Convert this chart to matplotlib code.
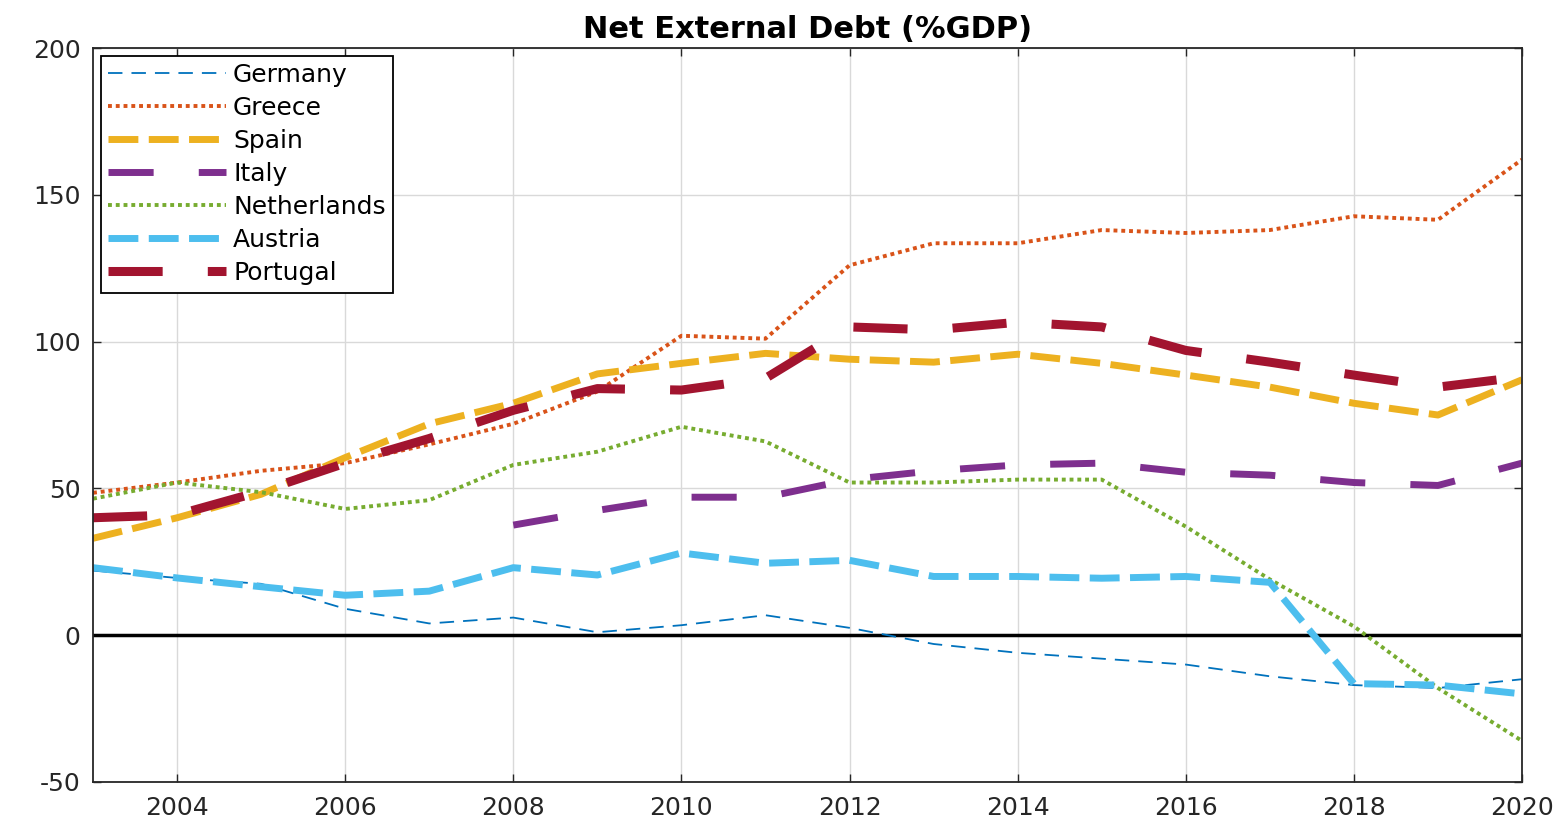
import matplotlib
matplotlib.use("Agg")
import matplotlib.pyplot as plt

years = list(range(2003, 2021))

germany = [22, 19.5, 17.5, 9, 4, 6, 1, 3.4, 6.8, 2.5, -3, -6, -8, -10, -14, -17, -18, -15]
greece = [48.5, 52, 56, 58.6, 65, 72, 83, 102, 101, 126, 133.5, 133.5, 138, 137, 138, 142.7, 141.5, 162]
spain = [33, 40, 48, 60.5, 72, 79, 89, 92.6, 96, 94, 93, 95.7, 92.6, 88.6, 84.5, 79, 75, 87]
italy = [None, None, None, None, None, 37.5, 42.5, 47, 47, 53, 56, 58, 58.6, 55.5, 54.5, 52, 51, 58.6]
netherlands = [46.5, 52, 48.7, 43, 46, 58, 62.5, 71, 66, 52, 52, 53, 53, 37, 19, 3, -18, -36]
austria = [23, 19.5, 16.5, 13.6, 15, 23, 20.5, 28, 24.5, 25.5, 20, 20, 19.4, 20, 18, -16.5, -17, -20]
portugal = [40, 41, 49, 58.6, 67, 76.6, 84, 83.5, 87.5, 105, 104, 106.6, 105, 97, 93, 88.6, 84.5, 88]

series_names = ["Germany", "Greece", "Spain", "Italy", "Netherlands", "Austria", "Portugal"]
series_values = [germany, greece, spain, italy, netherlands, austria, portugal]

x_ticks = [2004, 2006, 2008, 2010, 2012, 2014, 2016, 2018, 2020]
y_ticks = [-50, 0, 50, 100, 150, 200]
title = "Net External Debt (%GDP)"

plt.rcParams['font.family'] = ['DejaVu Sans']
plt.rcParams['axes.unicode_minus'] = False

styles = {
    "Germany":     dict(color="#0072BD", lw=1.3, dashes=(8, 5)),
    "Greece":      dict(color="#D95319", lw=2.8, dashes=(1, 1)),
    "Spain":       dict(color="#EDB120", lw=5.0, dashes=(4.3, 1.5)),
    "Italy":       dict(color="#7E2F8E", lw=5.0, dashes=(6.5, 6.5)),
    "Netherlands": dict(color="#77AC30", lw=2.8, dashes=(1, 1)),
    "Austria":     dict(color="#4DBEEE", lw=5.0, dashes=(4.3, 1.5)),
    "Portugal":    dict(color="#A2142F", lw=6.5, dashes=(6, 5)),
}

fig = plt.figure(figsize=(15.66, 8.24), dpi=100)
ax = fig.add_axes([0.0594, 0.051, 0.9125, 0.8907])

ax.axhline(0, color="black", lw=2.5, zorder=1.5)

for name, vals in zip(series_names, series_values):
    st = styles[name]
    yv = [float('nan') if v is None else v for v in vals]
    ax.plot(years, yv, color=st["color"], lw=st["lw"], dashes=st["dashes"],
            label=name, zorder=2)

ax.set_xlim(2003, 2020)
ax.set_ylim(-50, 200)
ax.set_xticks(x_ticks)
ax.set_yticks(y_ticks)
ax.grid(True, color="#d9d9d9", lw=1.0)
ax.set_axisbelow(True)
ax.tick_params(direction="in", top=True, right=True, labelsize=18,
               length=6, width=1.0, colors="#262626")
ax.tick_params(axis="x", pad=10)
ax.tick_params(axis="y", pad=9)
for sp in ax.spines.values():
    sp.set_color("#262626")
    sp.set_linewidth(1.3)

ax.set_title(title, fontsize=22, fontweight="bold", pad=7)

leg = ax.legend(loc="upper left", fontsize=18, handlelength=4.7,
                handletextpad=0.3, labelspacing=0.36, borderaxespad=0.3,
                borderpad=0.3, fancybox=False, framealpha=1)
leg.get_frame().set_edgecolor("black")
leg.get_frame().set_linewidth(1.3)

fig.savefig("out.png", dpi=100)
